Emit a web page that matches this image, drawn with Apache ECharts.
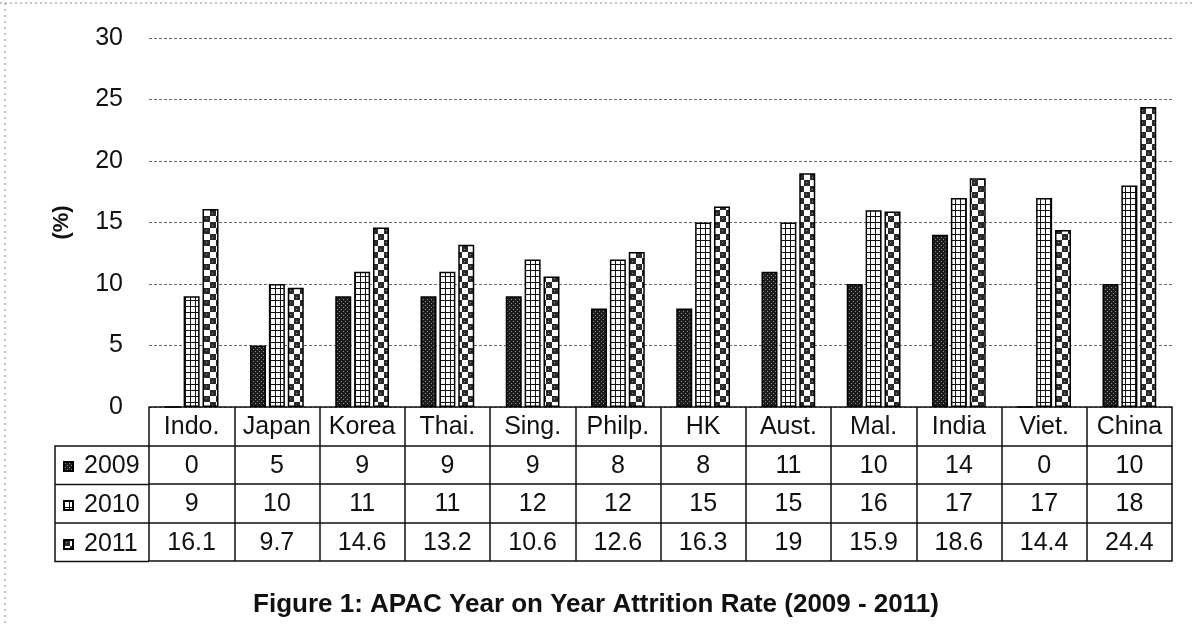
<!DOCTYPE html>
<html>
<head>
<meta charset="utf-8">
<style>
  html, body { margin: 0; padding: 0; background: #fff; }
  #chart { width: 1192px; height: 626px; }
</style>
<script src="https://cdn.jsdelivr.net/npm/echarts@6.0.0/dist/echarts.min.js"></script>
</head>
<body>
<div id="chart"></div>
<script>
// data
var countries = ['Indo.', 'Japan', 'Korea', 'Thai.', 'Sing.', 'Philp.', 'HK', 'Aust.', 'Mal.', 'India', 'Viet.', 'China'];
var rate2009 = [0, 5, 9, 9, 9, 8, 8, 11, 10, 14, 0, 10];
var rate2010 = [9, 10, 11, 11, 12, 12, 15, 15, 16, 17, 17, 18];
var rate2011 = [16.1, 9.7, 14.6, 13.2, 10.6, 12.6, 16.3, 19, 15.9, 18.6, 14.4, 24.4];
var years = ['2009', '2010', '2011'];
var yTicks = [0, 5, 10, 15, 20, 25, 30];

var FONT = '"Liberation Sans", Arial, sans-serif';
var INK = '#111';
var rowH = 38.5;

/* fill patterns for the bars */
function makeTile(w, h, draw) {
  var c = document.createElement('canvas');
  c.width = w; c.height = h;
  draw(c.getContext('2d'));
  return { image: c, repeat: 'repeat' };
}
var darkFill = makeTile(4, 4, function (g) {
  g.fillStyle = '#1c1c1c'; g.fillRect(0, 0, 4, 4);
  g.fillStyle = '#8a8a8a'; g.fillRect(1, 1, 1, 1); g.fillRect(3, 3, 1, 1);
});
var gridFill = makeTile(5, 6, function (g) {
  g.fillStyle = '#fff'; g.fillRect(0, 0, 5, 6);
  g.fillStyle = '#111'; g.fillRect(0, 0, 5, 1); g.fillRect(0, 0, 1, 6);
});
var checkFill = makeTile(12, 12, function (g) {
  g.fillStyle = '#fff'; g.fillRect(0, 0, 12, 12);
  g.fillStyle = '#2a2a2a'; g.fillRect(0, 0, 6, 6); g.fillRect(6, 6, 6, 6);
  g.fillStyle = '#999'; g.fillRect(2, 2, 1, 1); g.fillRect(8, 9, 1, 1);
});
var fills = [darkFill, gridFill, checkFill];
var values = [rate2009, rate2010, rate2011];

/* table rows are extra category axes stacked under the grid */
function tableAxis(offset, rowVals, last) {
  return {
    type: 'category',
    gridIndex: 0,
    position: 'bottom',
    offset: offset,
    data: countries,
    axisLine: { show: true, lineStyle: { color: INK, width: 1.5 } },
    axisTick: { show: !last, interval: 0, length: rowH, lineStyle: { color: INK, width: 1.5 } },
    axisLabel: {
      show: !last, interval: 0, margin: 8, fontSize: 25, color: INK, fontFamily: FONT,
      formatter: function (v, i) { return rowVals ? String(rowVals[i]) : v; }
    },
    splitLine: { show: false }
  };
}

var chart = echarts.init(document.getElementById('chart'));
var option = {
  backgroundColor: '#fff',
  animation: false,
  textStyle: { fontFamily: FONT },
  title: {
    text: 'Figure 1: APAC Year on Year Attrition Rate (2009 - 2011)',
    left: 'center',
    top: 587,
    textStyle: { fontSize: 26, fontWeight: 'bold', color: INK, fontFamily: FONT }
  },
  legend: {
    orient: 'vertical',
    left: 58,
    top: 449,
    itemWidth: 9,
    itemHeight: 9,
    itemGap: 14,
    selectedMode: false,
    icon: 'rect',
    data: years,
    textStyle: { fontSize: 25, color: INK, fontFamily: FONT, padding: [0, 0, 0, 6] }
  },
  grid: { left: 149, right: 20, top: 38, bottom: 219, outerBoundsMode: 'none' },
  xAxis: [
    tableAxis(0, null, false),
    tableAxis(rowH, rate2009, false),
    tableAxis(rowH * 2, rate2010, false),
    tableAxis(rowH * 3, rate2011, false),
    tableAxis(rowH * 4, null, true)
  ],
  yAxis: {
    type: 'value',
    min: yTicks[0],
    max: yTicks[yTicks.length - 1],
    interval: yTicks[1] - yTicks[0],
    name: '(%)',
    nameLocation: 'middle',
    nameGap: 76,
    nameTextStyle: { fontSize: 22, fontWeight: 'bold', color: INK, fontFamily: FONT },
    axisLine: { show: false },
    axisTick: { show: false },
    axisLabel: { fontSize: 25, color: INK, margin: 26, fontFamily: FONT },
    splitLine: { lineStyle: { color: '#6a6a6a', width: 1, type: [3, 2] } }
  },
  series: years.map(function (y, k) {
    return {
      name: y,
      type: 'bar',
      xAxisIndex: 0,
      barWidth: 16,
      barGap: '18%',
      data: values[k],
      itemStyle: { color: fills[k], borderColor: '#000', borderWidth: 1.5 }
    };
  }),
  graphic: [
    // row-header box of the data table
    { type: 'polyline', shape: { points: [[149, 446], [55, 446], [55, 561.5], [149, 561.5]] },
      style: { stroke: INK, lineWidth: 1.5, fill: null } },
    { type: 'line', shape: { x1: 55, y1: 484.5, x2: 149, y2: 484.5 }, style: { stroke: INK, lineWidth: 1.5 } },
    { type: 'line', shape: { x1: 55, y1: 523, x2: 149, y2: 523 }, style: { stroke: INK, lineWidth: 1.5 } },
    // scan frame edges
    { type: 'line', shape: { x1: 0, y1: 3, x2: 1192, y2: 3 }, style: { stroke: '#888', lineWidth: 1, lineDash: [2, 3] } },
    { type: 'line', shape: { x1: 5, y1: 3, x2: 5, y2: 626 }, style: { stroke: '#888', lineWidth: 1, lineDash: [2, 4] } }
  ]
};
chart.setOption(option);
</script>
</body>
</html>
